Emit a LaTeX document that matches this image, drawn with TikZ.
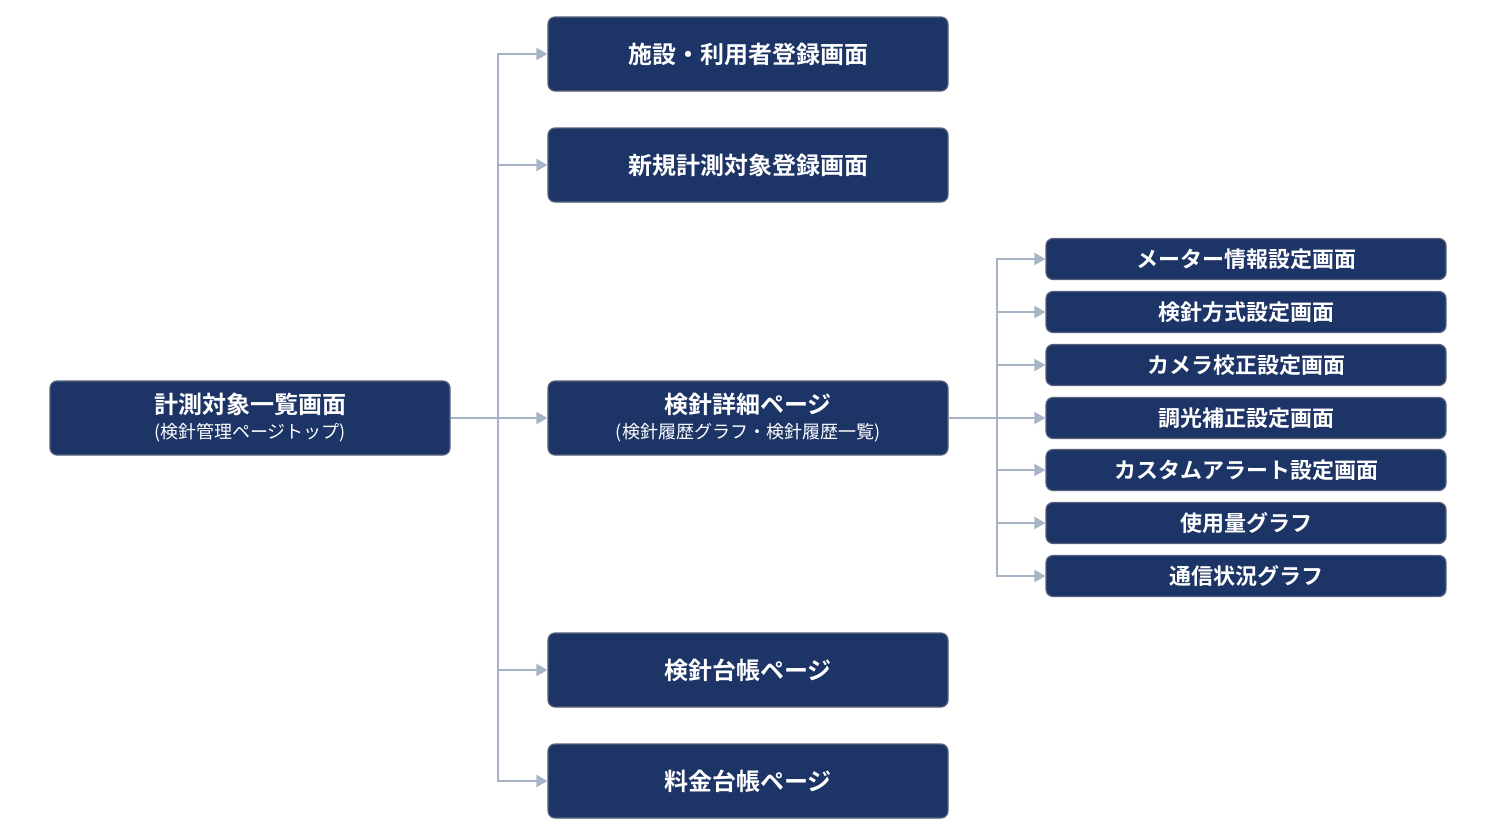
\documentclass[tikz,border=0pt]{standalone}
\usepackage{fontspec}
\newfontfamily\jpb{Noto Sans CJK JP Bold}
\newfontfamily\jpr{Noto Sans CJK JP}
\usetikzlibrary{arrows.meta}
\definecolor{navy}{HTML}{1D3466}
\definecolor{bord}{HTML}{56627C}
\definecolor{conn}{HTML}{A7B3C6}
\begin{document}
\begin{tikzpicture}[x=1pt,y=-1pt,
 big/.style={draw=bord,line width=1.2pt,fill=navy,rounded corners=7pt,minimum width=400pt,minimum height=74pt,text=white,align=center,font=\jpb\fontsize{24}{28}\selectfont},
 small/.style={big,minimum height=41pt,font=\jpb\fontsize{22}{26}\selectfont},
 sub/.style={font=\jpr\fontsize{18}{22}\selectfont},
 ln/.style={draw=conn,line width=2.2pt},
 arr/.style={ln,-{Triangle[length=11pt,width=12pt]}}]
\useasboundingbox (0,0) rectangle (1496,838);
\node[big] (root) at (250,418) {計測対象一覧画面\\[-3pt]{\jpr\fontsize{18}{22}\selectfont(検針管理ページトップ)}};
\node[big] (m1) at (748,54) {施設・利用者登録画面};
\node[big] (m2) at (748,165) {新規計測対象登録画面};
\node[big] (m3) at (748,418) {検針詳細ページ\\[-3pt]{\jpr\fontsize{18}{22}\selectfont(検針履歴グラフ・検針履歴一覧)}};
\node[big] (m4) at (748,670) {検針台帳ページ};
\node[big] (m5) at (748,781) {料金台帳ページ};
\node[small] (r1) at (1246,259) {メーター情報設定画面};
\node[small] (r2) at (1246,312) {検針方式設定画面};
\node[small] (r3) at (1246,365) {カメラ校正設定画面};
\node[small] (r4) at (1246,418) {調光補正設定画面};
\node[small] (r5) at (1246,470) {カスタムアラート設定画面};
\node[small] (r6) at (1246,523) {使用量グラフ};
\node[small] (r7) at (1246,576) {通信状況グラフ};
\coordinate (j1) at (498,418);
\coordinate (j2) at (997,418);
\draw[ln] (root.east) -- (j1);
\foreach \n in {m1,m2,m3,m4,m5} \draw[arr] (j1) |- (\n.west);
\draw[ln] (m3.east) -- (j2);
\foreach \n in {r1,r2,r3,r4,r5,r6,r7} \draw[arr] (j2) |- (\n.west);
\end{tikzpicture}
\end{document}
